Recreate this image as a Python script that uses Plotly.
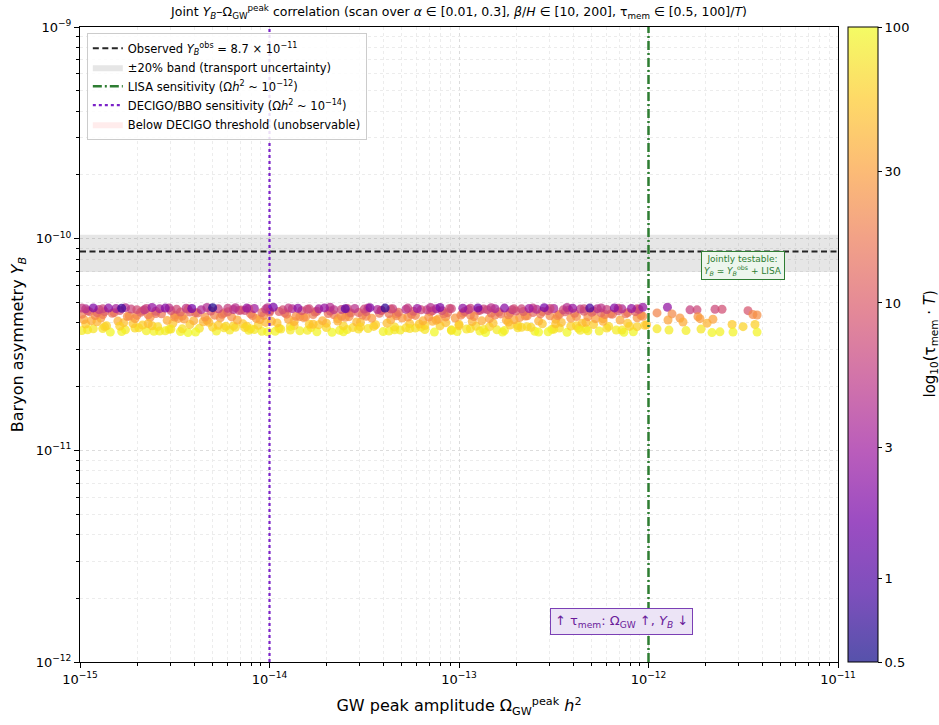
import numpy as np
import plotly.graph_objects as go
import plotly.colors as pc

# ---------------- reference constants ----------------
Y_OBS = 8.7e-11
BAND_FRAC = 0.20
LISA_OMEGA = 1e-12
DECIGO_OMEGA = 1e-14
X_RANGE = [1e-15, 1e-11]
Y_RANGE = [1e-12, 1e-9]

x_ticks = [1e-15, 1e-14, 1e-13, 1e-12, 1e-11]
x_ticktext = ["10<sup>−15</sup>", "10<sup>−14</sup>", "10<sup>−13</sup>", "10<sup>−12</sup>", "10<sup>−11</sup>"]
y_ticks = [1e-12, 1e-11, 1e-10, 1e-9]
y_ticktext = ["10<sup>−12</sup>", "10<sup>−11</sup>", "10<sup>−10</sup>", "10<sup>−9</sup>"]
tau_ticks = [0.5, 1, 3, 10, 30, 100]
tau_ticktext = ["0.5", "1", "3", "10", "30", "100"]

# ---------------- scan points ----------------
# log10(Omega_GW h^2), Y_B in units of 1e-11, tau_mem*T
a_logx = [-14.93, -14.78, -14.62, -14.55, -14.41, -14.30, -14.12, -13.98, -13.85, -13.71, -13.60, -13.47, -13.39,
          -13.22, -13.10, -12.98, -12.90, -12.76, -12.63, -12.55, -12.40, -12.31, -12.18, -12.09, -14.85, -12.03]
a_yb = [4.71, 4.69, 4.73, 4.70, 4.68, 4.72, 4.70, 4.74, 4.69, 4.71, 4.67, 4.72, 4.70,
        4.68, 4.73, 4.69, 4.71, 4.70, 4.68, 4.72, 4.69, 4.70, 4.71, 4.68, 4.70, 4.74]
a_tau = [1.9, 0.8, 2.5, 2.1, 1.6, 0.6, 2.7, 1.8, 2.3, 2.6, 1.2, 2.0, 0.7,
         2.8, 1.9, 2.4, 1.5, 2.2, 2.9, 1.7, 2.6, 0.9, 2.1, 2.5, 2.3, 2.6]

b_logx = [-14.97, -14.90, -14.81, -14.73, -14.66, -14.58, -14.49, -14.44, -14.36, -14.27, -14.19, -14.08, -14.02,
          -13.93, -13.88, -13.80, -13.74, -13.66, -13.55, -13.50, -13.43, -13.35, -13.28, -13.17, -13.12, -13.05,
          -12.95, -12.87, -12.81, -12.72, -12.67, -12.59, -12.50, -12.45, -12.36, -12.27, -12.22, -12.14, -12.05,
          -14.70, -14.15, -13.62, -13.20, -12.85, -12.42]
b_yb = [4.66, 4.63, 4.68, 4.65, 4.61, 4.67, 4.64, 4.69, 4.62, 4.66, 4.63, 4.68, 4.65,
        4.61, 4.67, 4.64, 4.66, 4.62, 4.68, 4.65, 4.63, 4.67, 4.64, 4.61, 4.66, 4.68,
        4.63, 4.65, 4.67, 4.62, 4.66, 4.64, 4.68, 4.61, 4.65, 4.67, 4.63, 4.66, 4.64,
        4.62, 4.60, 4.63, 4.61, 4.62, 4.60]
b_tau = [4.2, 5.5, 3.3, 6.8, 4.9, 3.6, 7.4, 5.1, 3.9, 6.2, 4.5, 3.1, 5.8,
         7.9, 4.0, 6.5, 3.4, 5.3, 4.7, 7.1, 3.8, 6.0, 4.4, 5.6, 3.2, 7.6,
         4.8, 6.3, 3.5, 5.0, 6.9, 4.1, 3.7, 7.3, 5.4, 4.6, 6.6, 3.9, 5.9,
         7.8, 8.0, 6.4, 7.5, 7.0, 7.7]

c_logx = [-14.96, -14.87, -14.79, -14.68, -14.60, -14.52, -14.39, -14.31, -14.22, -14.13, -14.04, -13.95, -13.83,
          -13.76, -13.68, -13.57, -13.49, -13.41, -13.32, -13.24, -13.14, -13.06, -12.97, -12.89, -12.79, -12.70,
          -12.61, -12.53, -12.44, -12.34, -12.25, -12.16, -12.07, -14.47, -14.00, -13.53, -13.09, -12.66, -12.30,
          -14.91]
c_yb = [4.56, 4.52, 4.58, 4.49, 4.54, 4.57, 4.47, 4.55, 4.51, 4.58, 4.48, 4.53, 4.57,
        4.50, 4.55, 4.46, 4.52, 4.58, 4.49, 4.54, 4.56, 4.47, 4.53, 4.59, 4.50, 4.55,
        4.48, 4.57, 4.51, 4.54, 4.46, 4.56, 4.52, 4.50, 4.55, 4.48, 4.57, 4.53, 4.49,
        4.47]
c_tau = [9.5, 11.2, 8.4, 13.1, 10.3, 8.9, 13.8, 9.9, 11.7, 8.2, 13.4, 10.8, 8.7,
         12.5, 9.6, 13.9, 11.0, 8.3, 12.9, 10.1, 9.2, 13.6, 10.6, 8.1, 12.2, 9.8,
         13.2, 8.8, 11.5, 10.4, 13.7, 9.0, 11.3, 12.0, 9.4, 12.8, 8.6, 10.9, 12.6,
         13.3]

d_logx = [-14.99, -14.92, -14.83, -14.75, -14.64, -14.57, -14.46, -14.38, -14.29, -14.20, -14.10, -14.03, -13.92,
          -13.86, -13.77, -13.69, -13.58, -13.51, -13.42, -13.33, -13.25, -13.16, -13.08, -12.99, -12.92, -12.83,
          -12.74, -12.65, -12.57, -12.48, -12.39, -12.32, -12.23, -12.12, -12.03, -14.70, -14.25, -13.81, -13.37,
          -12.94, -12.52, -12.19, -14.50, -13.62, -12.78]
d_yb = [4.40, 4.33, 4.44, 4.29, 4.37, 4.42, 4.31, 4.45, 4.35, 4.27, 4.41, 4.34, 4.46,
        4.30, 4.38, 4.43, 4.28, 4.36, 4.44, 4.32, 4.39, 4.26, 4.42, 4.35, 4.29, 4.45,
        4.37, 4.31, 4.41, 4.33, 4.44, 4.28, 4.38, 4.42, 4.30, 4.34, 4.39, 4.27, 4.43,
        4.36, 4.32, 4.40, 4.26, 4.30, 4.41]
d_tau = [17.5, 21.3, 15.2, 24.1, 19.0, 16.1, 23.0, 14.6, 20.2, 24.6, 16.8, 21.9, 14.3,
         23.7, 18.4, 15.7, 24.3, 19.6, 15.0, 22.4, 17.9, 24.8, 16.4, 20.7, 23.4, 14.8,
         18.8, 22.8, 16.6, 21.5, 15.4, 24.0, 18.1, 16.0, 23.2, 20.9, 17.2, 24.5, 15.9,
         19.3, 22.1, 17.0, 24.9, 23.6, 16.3]

e_logx = [-14.98, -14.89, -14.80, -14.71, -14.63, -14.54, -14.45, -14.35, -14.26, -14.17, -14.07, -13.99, -13.90,
          -13.82, -13.72, -13.64, -13.54, -13.46, -13.36, -13.27, -13.19, -13.11, -13.02, -12.93, -12.84, -12.75,
          -12.68, -12.58, -12.49, -12.41, -12.33, -12.24, -12.15, -12.06, -14.94, -14.48, -14.05, -13.60, -13.14,
          -12.71, -12.28, -14.33, -13.87, -13.30, -12.88]
e_yb = [4.15, 4.22, 4.08, 4.19, 4.25, 4.11, 4.17, 4.05, 4.23, 4.13, 4.20, 4.07, 4.16,
        4.24, 4.10, 4.18, 4.04, 4.21, 4.14, 4.26, 4.09, 4.17, 4.22, 4.06, 4.19, 4.12,
        4.24, 4.08, 4.16, 4.21, 4.03, 4.18, 4.13, 4.23, 4.10, 4.20, 4.15, 4.25, 4.07,
        4.14, 4.19, 4.11, 4.06, 4.22, 4.09]
e_tau = [32.5, 27.1, 38.4, 29.6, 25.8, 35.9, 31.2, 41.7, 26.5, 34.3, 28.7, 39.8, 31.9,
         26.1, 36.6, 30.4, 43.0, 28.0, 33.8, 25.4, 37.5, 31.0, 27.4, 40.6, 29.9, 35.2,
         26.8, 38.9, 32.1, 28.3, 44.2, 30.7, 34.8, 27.7, 36.1, 29.2, 33.1, 25.6, 39.4,
         34.0, 30.1, 35.5, 40.2, 27.9, 37.0]

f_logx = [-14.97, -14.86, -14.77, -14.67, -14.59, -14.51, -14.42, -14.32, -14.23, -14.14, -14.06, -13.96, -13.89,
          -13.79, -13.70, -13.61, -13.52, -13.44, -13.34, -13.26, -13.18, -13.07, -13.00, -12.91, -12.82, -12.73,
          -12.64, -12.56, -12.46, -12.38, -12.29, -12.21, -12.11, -12.02, -14.72, -14.19, -13.74, -13.21, -12.69,
          -12.35]
f_yb = [3.95, 3.88, 4.01, 3.91, 3.84, 3.98, 3.93, 4.03, 3.86, 3.96, 3.90, 4.00, 3.85,
        3.94, 3.99, 3.87, 4.02, 3.92, 3.83, 3.97, 3.89, 4.01, 3.94, 3.86, 3.99, 3.91,
        3.84, 3.96, 4.02, 3.88, 3.93, 3.85, 3.98, 3.90, 3.97, 3.87, 3.92, 3.95, 3.89,
        3.99]
f_tau = [54.2, 61.8, 47.3, 58.6, 66.4, 50.1, 56.9, 45.8, 63.7, 52.5, 59.9, 48.4, 65.1,
         55.3, 49.6, 62.4, 46.2, 57.7, 68.9, 51.2, 60.5, 47.0, 55.8, 64.3, 49.1, 58.0,
         67.2, 52.9, 45.5, 61.1, 56.3, 66.0, 50.6, 59.2, 51.7, 62.9, 57.1, 53.6, 60.8,
         49.9]

g_logx = [-14.99, -14.93, -14.84, -14.76, -14.69, -14.61, -14.53, -14.43, -14.37, -14.28, -14.18, -14.11, -14.01,
          -13.94, -13.84, -13.78, -13.67, -13.59, -13.48, -13.40, -13.31, -13.23, -13.13, -13.04, -12.96, -12.86,
          -12.80, -12.69, -12.60, -12.51, -12.43, -12.37, -12.26, -12.17, -12.08, -14.88, -14.47, -14.08, -13.63,
          -13.20, -12.77, -12.33, -14.65, -14.24, -13.75, -13.34, -12.89, -12.47, -12.13, -13.97]
g_yb = [3.68, 3.75, 3.62, 3.71, 3.79, 3.65, 3.73, 3.60, 3.77, 3.66, 3.81, 3.69, 3.63,
        3.74, 3.67, 3.80, 3.61, 3.72, 3.76, 3.64, 3.70, 3.78, 3.62, 3.68, 3.74, 3.60,
        3.71, 3.79, 3.65, 3.73, 3.61, 3.77, 3.66, 3.70, 3.63, 3.76, 3.64, 3.72, 3.69,
        3.82, 3.62, 3.75, 3.67, 3.79, 3.63, 3.71, 3.66, 3.78, 3.61, 3.65]
g_tau = [84.7, 76.2, 95.3, 81.0, 72.4, 90.8, 78.5, 98.6, 74.1, 88.9, 70.6, 83.3, 93.7,
         77.4, 87.2, 71.5, 97.1, 80.2, 75.0, 91.9, 82.6, 73.3, 96.0, 85.8, 77.9, 99.4,
         81.7, 72.9, 89.6, 79.3, 97.8, 74.6, 88.1, 83.9, 94.5, 75.7, 92.4, 80.6, 86.5,
         70.9, 95.9, 76.8, 87.7, 73.8, 93.1, 82.0, 90.2, 72.1, 98.2, 91.3]

h_logx = [-14.95, -14.88, -14.82, -14.74, -14.67, -14.60, -14.50, -14.42, -14.34, -14.24, -14.16, -14.09,
          -14.00, -13.91, -13.84, -13.75, -13.66, -13.58, -13.49, -13.41, -13.33, -13.23, -13.15, -13.07,
          -12.98, -12.90, -12.81, -12.73, -12.64, -12.56, -12.47, -12.38, -12.29, -12.20, -12.11, -12.04,
          -14.91, -14.79, -14.64, -14.52, -14.40, -14.27, -14.13, -14.02, -13.89, -13.77, -13.64, -13.52,
          -13.38, -13.26, -13.12, -13.00, -12.87, -12.74, -12.62, -12.49, -12.36, -12.24, -12.10, -12.01]
h_yb = [4.52, 4.38, 4.47, 4.31, 4.56, 4.43, 4.35, 4.50, 4.26, 4.45, 4.58, 4.33,
        4.49, 4.40, 4.28, 4.54, 4.37, 4.46, 4.30, 4.59, 4.42, 4.34, 4.51, 4.27,
        4.44, 4.56, 4.36, 4.48, 4.32, 4.53, 4.39, 4.29, 4.55, 4.41, 4.47, 4.34,
        4.05, 3.86, 3.97, 3.74, 4.10, 3.90, 3.80, 4.02, 3.70, 3.94, 4.08, 3.83,
        3.99, 3.76, 4.12, 3.88, 3.72, 4.04, 3.81, 3.96, 3.69, 4.07, 3.85, 3.92]
h_tau = [11.5, 18.0, 13.8, 22.5, 9.8, 16.0, 20.0, 12.2, 25.5, 14.5, 8.6, 21.0,
         13.0, 17.2, 24.0, 10.8, 19.0, 14.0, 23.0, 8.3, 16.5, 20.5, 11.8, 25.0,
         15.0, 9.9, 19.5, 13.2, 21.5, 11.0, 17.8, 24.2, 10.5, 16.8, 13.6, 20.8,
         40.5, 58.0, 46.5, 75.0, 37.5, 53.0, 66.5, 42.8, 80.5, 49.0, 39.0, 62.0,
         45.0, 72.0, 35.5, 56.0, 78.0, 41.5, 64.0, 47.5, 82.0, 38.5, 59.5, 50.5]

i_logx = [-14.96, -14.87, -14.78, -14.71, -14.62, -14.55, -14.46, -14.39, -14.30, -14.21, -14.12, -14.04,
          -13.95, -13.87, -13.80, -13.70, -13.61, -13.53, -13.45, -13.37, -13.28, -13.18, -13.10, -13.01,
          -12.94, -12.84, -12.76, -12.67, -12.58, -12.50, -12.41, -12.32, -12.22, -12.14, -12.06, -14.58,
          -14.10, -13.56, -13.04, -12.53]
i_yb = [3.71, 3.84, 3.64, 3.78, 3.88, 3.67, 3.75, 3.62, 3.82, 3.70, 3.86, 3.65,
        3.77, 3.89, 3.69, 3.80, 3.63, 3.74, 3.85, 3.66, 3.79, 3.72, 3.87, 3.64,
        3.76, 3.83, 3.68, 3.81, 3.62, 3.73, 3.86, 3.67, 3.78, 3.70, 3.84, 3.66,
        3.75, 3.80, 3.71, 3.63]
i_tau = [78.5, 60.5, 90.0, 68.0, 56.0, 85.0, 72.5, 96.5, 63.0, 81.0, 58.0, 88.5,
         70.0, 55.0, 83.0, 65.5, 93.0, 74.0, 59.0, 86.5, 67.0, 77.0, 57.0, 91.5,
         71.0, 61.5, 84.0, 64.0, 97.0, 75.5, 58.5, 85.5, 68.5, 79.5, 60.0, 87.0,
         73.0, 66.0, 78.0, 94.0]

j_logx = [-14.99, -14.88, -14.76, -14.65, -14.53, -14.43, -14.33, -14.22, -14.11, -14.01, -13.90, -13.79,
          -13.68, -13.59, -13.48, -13.36, -13.27, -13.15, -13.04, -12.94, -12.83, -12.71, -12.61, -12.52,
          -12.43, -12.34, -12.25, -12.16, -12.06, -14.18]
j_yb = [4.70, 4.66, 4.72, 4.68, 4.71, 4.65, 4.73, 4.69, 4.67, 4.72, 4.70, 4.66,
        4.74, 4.68, 4.71, 4.65, 4.70, 4.73, 4.67, 4.69, 4.72, 4.66, 4.70, 4.68,
        4.73, 4.67, 4.71, 4.69, 4.66, 4.72]
j_tau = [5.8, 7.2, 4.6, 6.5, 5.1, 8.0, 4.2, 6.1, 7.0, 4.9, 5.6, 7.5,
         4.4, 6.7, 5.3, 8.2, 5.9, 4.5, 7.1, 6.3, 4.8, 7.7, 5.5, 6.9,
         4.3, 7.3, 5.0, 6.4, 7.9, 4.7]

tail_logx = [-11.955, -11.900, -11.876, -11.897, -11.834, -11.818, -11.955, -11.892, -11.802, -11.781,
             -11.744, -11.739, -11.728, -11.723, -11.691, -11.665, -11.660, -11.649, -11.612, -11.623,
             -11.559, -11.554, -11.501, -11.475, -11.449, -11.427, -11.438, -11.427]
tail_yb = [4.46, 4.74, 4.41, 4.13, 4.22, 4.04, 3.75, 3.70, 3.68, 4.61,
           4.61, 4.28, 4.19, 3.74, 3.99, 3.60, 4.16, 4.64, 4.64, 3.63,
           3.93, 3.62, 3.84, 4.57, 4.38, 4.36, 3.93, 3.62]
tail_tau = [20.0, 2.5, 22.0, 32.0, 27.0, 36.0, 80.0, 85.0, 88.0, 6.0,
            7.0, 25.0, 30.0, 78.0, 40.0, 95.0, 32.0, 7.0, 8.0, 90.0,
            55.0, 92.0, 62.0, 9.0, 22.0, 24.0, 58.0, 92.0]

log_omega = g_logx + i_logx + f_logx + e_logx + h_logx + d_logx + c_logx + b_logx + j_logx + a_logx + tail_logx
yb_scaled = g_yb + i_yb + f_yb + e_yb + h_yb + d_yb + c_yb + b_yb + j_yb + a_yb + tail_yb
tau_mem = g_tau + i_tau + f_tau + e_tau + h_tau + d_tau + c_tau + b_tau + j_tau + a_tau + tail_tau

omega = 10.0 ** np.array(log_omega)
y_b = np.array(yb_scaled) * 1e-11
log_tau = np.log10(np.array(tau_mem))
cmin, cmax = np.log10(tau_ticks[0]), np.log10(tau_ticks[-1])

# colorbar: plasma as seen through alpha 0.7 on white
plasma = pc.sequential.Plasma
def blend(hexc, a=0.7):
    r, g, b = pc.hex_to_rgb(hexc)
    return "rgb(%d,%d,%d)" % tuple(round(a * v + (1 - a) * 255) for v in (r, g, b))
n = len(plasma)
blended_scale = [[i / (n - 1), blend(c)] for i, c in enumerate(plasma)]

FONT = "DejaVu Sans"
fig = go.Figure()

# ±20% band
lo, hi = Y_OBS * (1 - BAND_FRAC), Y_OBS * (1 + BAND_FRAC)
fig.add_trace(go.Scatter(
    x=[X_RANGE[0], X_RANGE[1], X_RANGE[1], X_RANGE[0], X_RANGE[0]],
    y=[lo, lo, hi, hi, lo], mode="lines", fill="toself",
    fillcolor="rgba(128,128,128,0.2)", line=dict(width=0),
    name="±20% band (transport uncertainty)", legendrank=2, hoverinfo="skip"))

# scan scatter
fig.add_trace(go.Scatter(
    x=omega, y=y_b, mode="markers", showlegend=False,
    marker=dict(size=9, color=log_tau, colorscale="Plasma", cmin=cmin, cmax=cmax,
                opacity=0.72, line=dict(width=0))))

# observed line
fig.add_trace(go.Scatter(
    x=X_RANGE, y=[Y_OBS, Y_OBS], mode="lines",
    line=dict(color="rgba(0,0,0,0.85)", width=2, dash="6px,3.5px"),
    name="Observed <i>Y</i><sub><i>B</i></sub><sup>obs</sup> = 8.7 × 10<sup>−11</sup>", legendrank=1))

# LISA
fig.add_trace(go.Scatter(
    x=[LISA_OMEGA, LISA_OMEGA], y=Y_RANGE, mode="lines",
    line=dict(color="#2e7d32", width=2.5, dash="9px,3px,2px,3px"),
    name="LISA sensitivity (Ω<i>h</i><sup>2</sup> ~ 10<sup>−12</sup>)", legendrank=3))

# DECIGO
fig.add_trace(go.Scatter(
    x=[DECIGO_OMEGA, DECIGO_OMEGA], y=Y_RANGE, mode="lines",
    line=dict(color="#7b22c8", width=2.2, dash="dot"),
    name="DECIGO/BBO sensitivity (Ω<i>h</i><sup>2</sup> ~ 10<sup>−14</sup>)", legendrank=4))

# below DECIGO threshold (legend entry, region lies outside view)
fig.add_trace(go.Scatter(
    x=[None], y=[None], mode="lines", fill="toself",
    fillcolor="rgba(255,150,150,0.18)", line=dict(width=0),
    name="Below DECIGO threshold (unobservable)", legendrank=5))

# colorbar holder
fig.add_trace(go.Scatter(
    x=[None], y=[None], mode="markers", showlegend=False,
    marker=dict(color=[cmin], colorscale=blended_scale, cmin=cmin, cmax=cmax, showscale=True,
                colorbar=dict(x=1.0132, xanchor="left", y=0.5, yanchor="middle", len=1, lenmode="fraction",
                              thickness=30, thicknessmode="pixels", xpad=0, ypad=0,
                              outlinewidth=1, outlinecolor="black",
                              tickvals=list(np.log10(tau_ticks)), ticktext=tau_ticktext,
                              ticks="outside", ticklen=4, tickcolor="black",
                              tickfont=dict(size=13, family=FONT, color="black")))))

def minor_vals(lo_exp, hi_exp):
    return [m * 10.0 ** e for e in range(lo_exp, hi_exp) for m in range(2, 10)]

axis_common = dict(type="log", showline=True, mirror=True, linecolor="black", linewidth=1,
                   ticks="outside", ticklen=5, tickcolor="black",
                   tickfont=dict(size=13, family=FONT, color="black"),
                   showgrid=True, gridcolor="#dcdcdc", griddash="dot", gridwidth=1, zeroline=False)

fig.update_xaxes(range=[np.log10(X_RANGE[0]), np.log10(X_RANGE[1])],
                 tickmode="array", tickvals=x_ticks, ticktext=x_ticktext,
                 minor=dict(tickmode="array", tickvals=minor_vals(-15, -11), ticks="outside", ticklen=3,
                            tickcolor="black", showgrid=True, gridcolor="#ececec", griddash="dot"),
                 title=dict(text="GW peak amplitude Ω<sub>GW</sub><sup>peak</sup> <i>h</i><sup>2</sup>",
                            font=dict(size=16, family=FONT, color="black"), standoff=14),
                 **axis_common)
fig.update_yaxes(range=[np.log10(Y_RANGE[0]), np.log10(Y_RANGE[1])],
                 tickmode="array", tickvals=y_ticks, ticktext=y_ticktext,
                 minor=dict(tickmode="array", tickvals=minor_vals(-12, -9), ticks="outside", ticklen=3,
                            tickcolor="black", showgrid=True, gridcolor="#ececec", griddash="dot"),
                 title=dict(text="Baryon asymmetry <i>Y</i><sub><i>B</i></sub>",
                            font=dict(size=16, family=FONT, color="black"), standoff=8),
                 **axis_common)

# colorbar title
fig.add_annotation(x=(930 - 80) / 758, y=0.5, xref="paper", yref="paper", showarrow=False,
                   textangle=-90, xanchor="center", yanchor="middle",
                   text="log<sub>10</sub>(τ<sub>mem</sub> · <i>T</i>)",
                   font=dict(size=15, family=FONT, color="black"))

fig.add_annotation(x=-11.5, y=np.log10(7.47e-11), xref="x", yref="y", showarrow=False,
                   text="Jointly testable:<br><i>Y</i><sub><i>B</i></sub> ≃ <i>Y</i><sub><i>B</i></sub><sup>obs</sup> + LISA",
                   font=dict(size=9, family=FONT, color="#2e7d32"), align="center",
                   bgcolor="#edf6ed", bordercolor="#2e7d32", borderwidth=1, borderpad=2)
fig.add_annotation(x=-12.14, y=np.log10(1.556e-12), xref="x", yref="y", showarrow=False,
                   text="↑ τ<sub>mem</sub>: Ω<sub>GW</sub> ↑, <i>Y</i><sub><i>B</i></sub> ↓",
                   font=dict(size=13, family=FONT, color="#6a1b9a"), align="center",
                   bgcolor="#ece4f6", bordercolor="#7b3fb5", borderwidth=1, borderpad=4)

fig.update_layout(
    width=939, height=725,
    margin=dict(l=80, r=101, t=27, b=63),
    paper_bgcolor="white", plot_bgcolor="white",
    font=dict(family=FONT, color="black"),
    title=dict(text="Joint <i>Y</i><sub><i>B</i></sub>–Ω<sub>GW</sub><sup>peak</sup> correlation "
                    "(scan over <i>α</i> ∈ [0.01, 0.3], <i>β</i>/<i>H</i> ∈ [10, 200], "
                    "τ<sub>mem</sub> ∈ [0.5, 100]/<i>T</i>)",
               x=0.5, xref="paper", xanchor="center", y=1 - 12 / 725, yref="container", yanchor="middle",
               font=dict(size=12.5, family=FONT, color="black")),
    legend=dict(x=0.009, y=0.991, xanchor="left", yanchor="top",
                bgcolor="rgba(255,255,255,0.85)", bordercolor="#cccccc", borderwidth=1,
                font=dict(size=11.5, family=FONT, color="black"), tracegroupgap=0),
    showlegend=True,
)

fig.write_html("out.html", config={"displayModeBar": False},
               post_script="document.body.style.margin='0px';")
